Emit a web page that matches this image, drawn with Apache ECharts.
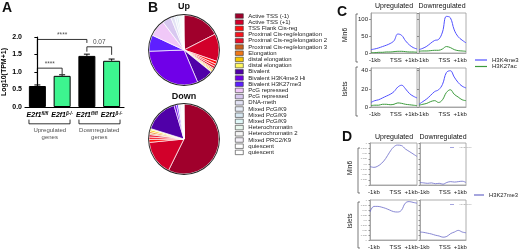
<!DOCTYPE html>
<html>
<head>
<meta charset="utf-8">
<script src="https://cdn.jsdelivr.net/npm/echarts@6/dist/echarts.min.js"></script>
<style>
	html, body { margin: 0; padding: 0; background: #fff; }
	#main { width: 520px; height: 250px; }
</style>
</head>
<body>
<div id="main"></div>
<script>
// ---- A: expression bars
var barLabels = ['E2f1|fl/fl', 'E2f1|β-/-', 'E2f1|fl/fl ', 'E2f1|β-/- '];
var barValues = [0.60, 0.89, 1.46, 1.32];
var barErrors = [0.03, 0.03, 0.05, 0.05];
var geneGroups = ['Upregulated\ngenes', 'Downregulated\ngenes'];
var sigLabels = ['****', '0.07', '****'];
var sigPairs = [[0, 2], [2, 3], [0, 1]];
var sigTop = [1.93, 1.72, 1.11];
var sigLeft = [1.36, 1.58, 0.77];
var sigRight = [1.83, 1.49, 0.94];

// ---- B: chromatin states (pie share, degrees of the circle)
var stateNames = ['Active TSS (-1)', 'Active TSS (+1)', 'TSS Flank Cis-reg', 'Proximal Cis-reg/elongation',
	'Proximal Cis-reg/elongation 2', 'Proximal Cis-reg/elongation 3', 'Elongation', 'distal elongation',
	'distal elongation#2', 'Bivalent', 'Bivalent H3K4me3 Hi', 'Bivalent H3K27me3', 'PcG repressed',
	'PcG repressed#2', 'DNA-meth', 'Mixed PcG/K9', 'Mixed PcG/K9#2', 'Mixed PcG/K9#3', 'Heterochromatin',
	'Heterochromatin 2', 'Mixed PRC2/K9', 'quiescent', 'quiescent#2'];
var upShare = [63, 46, 5, 4, 4, 2, 2, 2, 1, 28, 111, 27, 28, 15, 6, 4, 3, 2, 2, 2, 1, 1, 1];
var downShare = [206, 58, 5, 4, 4, 2, 3, 3, 2, 56, 4, 3, 2, 2, 1, 1, 0.5, 0.5, 0.5, 0.5, 0.5, 0.5, 0.5];

// ---- C: H3K4me3 / H3K27ac profiles around TSS (13 bins, -1kb .. +1kb)
var min6UpK4 = [10, 12, 15, 19, 23, 28, 36, 56, 52, 36, 24, 16, 12];
var min6UpK27ac = [1, 1, 2, 2, 3, 3, 4, 5, 5, 4, 3, 3, 2];
var min6DnK4 = [10, 14, 20, 29, 37, 40, 62, 108, 104, 68, 48, 38, 30];
var min6DnK27ac = [5, 6, 6, 7, 8, 8, 12, 19, 16, 10, 7, 6, 5];
var isletUpK4 = [5, 7, 8, 10, 12, 14, 17, 22, 24, 20, 15, 12, 10];
var isletUpK27ac = [1.5, 2, 2, 3, 3, 2.5, 3, 4.5, 4, 3, 2.5, 2, 1.5];
var isletDnK4 = [3, 6, 9, 13, 17, 19, 25, 38, 40, 33, 27, 23, 21];
var isletDnK27ac = [2, 3, 4, 6, 7, 5, 8, 16, 19, 14, 11, 8, 7];

// ---- D: H3K27me3 profiles (relative)
var min6UpK27me3 = [0.44, 0.42, 0.45, 0.52, 0.63, 0.78, 0.90, 0.95, 0.94, 0.86, 0.80, 0.74, 0.68];
var min6DnK27me3 = [0.06, 0.05, 0.04, 0.05, 0.03, 0.04, 0.02, 0.06, 0.08, 0.07, 0.08, 0.09, 0.06];
var isletUpK27me3 = [0.70, 0.84, 0.84, 0.82, 0.79, 0.75, 0.71, 0.70, 0.74, 0.92, 0.96, 0.94, 0.92];
var isletDnK27me3 = [0.20, 0.19, 0.17, 0.15, 0.12, 0.10, 0.07, 0.09, 0.16, 0.20, 0.24, 0.20, 0.18];
var tssLabels = ['-1kb', 'TSS', '+1kb'];

var FONT = '"Liberation Sans", Arial, sans-serif';
var barFill = ['#000', '#3DF58F', '#000', '#3DF58F'];
var stateColors = ['#A0002C', '#D2002A', '#FF1010', '#F81420', '#E8102C', '#C8601E', '#F07818', '#F8C800',
	'#FFF860', '#5000A8', '#7000E8', '#5E20FF', '#F0C8F8', '#D8C8F0', '#E2E2F4', '#E8EEF8', '#D8E8F2',
	'#E0F8F8', '#E8F8EE', '#F4F4F4', '#F4F0F8', '#FFFFFF', '#FFFFFF'];
var K4_COLOR = '#5050FF', K27AC_COLOR = '#3C9A3C', K27ME3_COLOR = '#6A6AC8';

var chart = echarts.init(document.getElementById('main'));

// grids: 0 = A, 1..4 = C, 5..8 = D
var grids = [
	{left: 25, top: 37, width: 99, height: 70},
	{left: 371, top: 13, width: 46, height: 40},
	{left: 419, top: 13, width: 47, height: 40},
	{left: 371, top: 68, width: 46, height: 39},
	{left: 419, top: 68, width: 47, height: 39},
	{left: 370, top: 143, width: 47, height: 42},
	{left: 420, top: 143, width: 46, height: 42},
	{left: 370, top: 200, width: 47, height: 40},
	{left: 420, top: 200, width: 46, height: 40}
];
grids.forEach(function(g, i) {
	if(i > 0) {
		g.show = true;
		g.borderColor = '#9a9a9a';
		g.borderWidth = 0.8;
	}
});

var xAxes = [{
	type: 'category', gridIndex: 0, data: barLabels,
	axisLine: {lineStyle: {color: '#000', width: 1.2}},
	axisTick: {alignWithLabel: true, length: 3, lineStyle: {color: '#000'}},
	axisLabel: {
		margin: 4, color: '#000', interval: 0, hideOverlap: false,
		formatter: function(v) {
			var p = v.trim().split('|');
			return '{i|' + p[0] + '}{s|' + p[1] + '}';
		},
		rich: {
			i: {fontFamily: FONT, fontSize: 7, fontStyle: 'italic', fontWeight: 'bold', color: '#000', lineHeight: 9},
			s: {fontFamily: FONT, fontSize: 4.5, fontStyle: 'italic', fontWeight: 'bold', color: '#000', verticalAlign: 'top', lineHeight: 9, padding: [0, 0, 4, 0]}
		}
	}
}, {
	// overlay axis for brackets, error bars and notes
	type: 'value', gridIndex: 0, min: -0.5, max: 3.5, show: false
}];
var yAxes = [{
	type: 'value', gridIndex: 0, min: 0, max: 2, interval: 0.5,
	name: 'Log10(TPM+1)', nameLocation: 'middle', nameGap: 17,
	nameTextStyle: {fontFamily: FONT, fontSize: 7, fontWeight: 'bold', color: '#000'},
	axisLine: {show: true, lineStyle: {color: '#000', width: 1.2}},
	axisTick: {show: true, length: 3, lineStyle: {color: '#000'}},
	splitLine: {show: false},
	axisLabel: {fontFamily: FONT, fontSize: 7, fontWeight: 'bold', color: '#000', margin: 3,
		formatter: function(v) { return v.toFixed(1); }}
}];

function profileX(gi) {
	return {
		type: 'value', gridIndex: gi, min: 0, max: 12,
		axisLine: {show: true, lineStyle: {color: '#9a9a9a', width: 0.8}},
		axisTick: {show: false},
		splitLine: {show: false},
		axisLabel: {
			customValues: [1, 6.5, 10.5], margin: 4,
			fontFamily: FONT, fontSize: 6, color: '#222',
			formatter: function(v) { return v === 1 ? tssLabels[0] : (v === 6.5 ? tssLabels[1] : tssLabels[2]); }
		}
	};
}
function profileY(gi, max, interval, showLabel, labelSize) {
	return {
		type: 'value', gridIndex: gi, min: 0, max: max, interval: interval,
		axisLine: {show: true, lineStyle: {color: '#9a9a9a', width: 0.8}},
		axisTick: {show: true, length: labelSize < 4 ? 1.5 : 2, lineStyle: {color: '#555', width: 0.6}},
		splitLine: {show: false},
		axisLabel: {show: showLabel, showMaxLabel: labelSize < 4, fontFamily: FONT, fontSize: labelSize,
			color: labelSize < 4 ? '#888' : '#222', margin: 3}
	};
}
for(var g = 1; g <= 8; g++) {
	xAxes.push(profileX(g));
}
yAxes.push(profileY(1, 118, 50, true, 6));
yAxes.push(profileY(2, 118, 50, false, 6));
yAxes.push(profileY(3, 43, 20, true, 6));
yAxes.push(profileY(4, 43, 20, false, 6));
yAxes.push(profileY(5, 1, 0.125, true, 2.5));
yAxes.push(profileY(6, 1, 0.125, false, 2.5));
yAxes.push(profileY(7, 1, 0.125, true, 2.5));
yAxes.push(profileY(8, 1, 0.125, false, 2.5));

function profile(name, gi, arr, color, width) {
	return {
		type: 'line', name: name, xAxisIndex: gi + 1, yAxisIndex: gi,
		data: arr.map(function(v, i) { return [i, v]; }),
		smooth: 0.4, symbol: 'none', showSymbol: false, silent: true,
		lineStyle: {color: color, width: width}, itemStyle: {color: color}
	};
}

function bracketLine(points) {
	return {
		type: 'line', xAxisIndex: 1, yAxisIndex: 0, data: points, clip: false,
		symbol: 'none', silent: true, lineStyle: {color: '#000', width: 0.8}
	};
}

var series = [];
// bars
series.push({
	type: 'bar', xAxisIndex: 0, yAxisIndex: 0, barWidth: 17, silent: true,
	itemStyle: {borderColor: '#000', borderWidth: 1},
	data: barValues.map(function(v, i) { return {value: v, itemStyle: {color: barFill[i]}}; })
});
// error bars
series.push({
	type: 'custom', xAxisIndex: 1, yAxisIndex: 0, silent: true,
	data: barValues.map(function(v, i) { return [i, v, barErrors[i]]; }),
	renderItem: function(params, api) {
		var top = api.coord([api.value(0), api.value(1) + api.value(2)]);
		var base = api.coord([api.value(0), api.value(1)]);
		return {
			type: 'group',
			children: [
				{type: 'line', shape: {x1: base[0], y1: base[1], x2: top[0], y2: top[1]}, style: {stroke: '#000', lineWidth: 1}},
				{type: 'line', shape: {x1: top[0] - 3, y1: top[1], x2: top[0] + 3, y2: top[1]}, style: {stroke: '#000', lineWidth: 1}}
			]
		};
	}
});
// significance brackets
sigPairs.forEach(function(p, k) {
	series.push(bracketLine([[p[0], sigLeft[k]], [p[0], sigTop[k]], [p[1], sigTop[k]], [p[1], sigRight[k]]]));
});
series.push({
	type: 'scatter', xAxisIndex: 1, yAxisIndex: 0, symbolSize: 0, clip: false, silent: true,
	data: sigPairs.map(function(p, k) { return [(p[0] + p[1]) / 2, sigTop[k] + 0.12, sigLabels[k]]; }),
	label: {show: true, position: 'inside', fontFamily: FONT, fontSize: 6.5, color: '#222',
		formatter: function(d) { return d.value[2]; }}
});
// gene group brackets under the axis
series.push(bracketLine([[-0.34, -0.36], [-0.34, -0.48], [1.32, -0.48], [1.32, -0.36]]));
series.push(bracketLine([[1.68, -0.36], [1.68, -0.48], [3.34, -0.48], [3.34, -0.36]]));
series.push({
	type: 'scatter', xAxisIndex: 1, yAxisIndex: 0, symbolSize: 0, clip: false, silent: true,
	data: geneGroups.map(function(n, k) { return [k * 2 + 0.5, -0.76, n]; }),
	label: {show: true, position: 'inside', fontFamily: FONT, fontSize: 6, lineHeight: 7, color: '#222',
		formatter: function(d) { return d.value[2]; }}
});

// pies
function pieData(values) {
	return values.map(function(v, i) { return {name: stateNames[i], value: v, itemStyle: {color: stateColors[i]}}; });
}
[[50, upShare], [139, downShare]].forEach(function(p) {
	series.push({
		type: 'pie', center: [184, p[0]], radius: 35, startAngle: 90, silent: true,
		label: {show: false}, labelLine: {show: false}, emphasis: {disabled: true},
		itemStyle: {borderColor: '#fff', borderWidth: 0.7},
		data: pieData(p[1])
	});
	series.push({
		type: 'pie', center: [184, p[0]], radius: [35, 35.9], silent: true,
		label: {show: false}, emphasis: {disabled: true},
		data: [{name: 'outline', value: 1, itemStyle: {color: '#222'}}]
	});
});

// C profiles
series.push(profile('H3K4me3', 1, min6UpK4, K4_COLOR, 1));
series.push(profile('H3K27ac', 1, min6UpK27ac, K27AC_COLOR, 1));
series.push(profile('H3K4me3', 2, min6DnK4, K4_COLOR, 1));
series.push(profile('H3K27ac', 2, min6DnK27ac, K27AC_COLOR, 1));
series.push(profile('H3K4me3', 3, isletUpK4, K4_COLOR, 1));
series.push(profile('H3K27ac', 3, isletUpK27ac, K27AC_COLOR, 1));
series.push(profile('H3K4me3', 4, isletDnK4, K4_COLOR, 1));
series.push(profile('H3K27ac', 4, isletDnK27ac, K27AC_COLOR, 1));
// D profiles
series.push(profile('H3K27me3', 5, min6UpK27me3, K27ME3_COLOR, 0.8));
series.push(profile('H3K27me3', 6, min6DnK27me3, K27ME3_COLOR, 0.8));
series.push(profile('H3K27me3', 7, isletUpK27me3, K27ME3_COLOR, 0.8));
series.push(profile('H3K27me3', 8, isletDnK27me3, K27ME3_COLOR, 0.8));

var legendText = {fontFamily: FONT, fontSize: 6, lineHeight: 6, color: '#222'};
var legends = [{
	data: stateNames, orient: 'vertical', left: 235, top: 13, padding: 0,
	icon: 'rect', itemWidth: 8, itemHeight: 4.5, itemGap: 0.2, selectedMode: false,
	itemStyle: {borderColor: '#333', borderWidth: 0.6},
	formatter: function(n) { return n.split('#')[0]; },
	textStyle: legendText
}, {
	data: ['H3K4me3', 'H3K27ac'], orient: 'vertical', left: 475, top: 57, padding: 0,
	icon: 'rect', itemWidth: 12, itemHeight: 1.2, itemGap: 0.5, selectedMode: false,
	textStyle: legendText
}, {
	data: ['H3K27me3'], orient: 'vertical', left: 474, top: 192, padding: 0,
	icon: 'rect', itemWidth: 10, itemHeight: 1.2, itemGap: 0, selectedMode: false,
	textStyle: {fontFamily: FONT, fontSize: 5.8, lineHeight: 6, color: '#222'}
}];
[146, 203].forEach(function(t) {
	legends.push({
		data: ['H3K27me3'], left: 450, top: t, padding: 0, icon: 'rect',
		itemWidth: 4, itemHeight: 0.6, itemGap: 1, selectedMode: false,
		textStyle: {fontFamily: FONT, fontSize: 2.5, color: '#999'}
	});
});

function txt(x, y, text, size, weight, extra) {
	var el = {
		type: 'text', x: x, y: y, silent: true,
		style: {text: text, fontFamily: FONT, fontSize: size, fontWeight: weight || 'normal', fill: '#111', align: 'center', verticalAlign: 'middle'}
	};
	if(extra) { el.rotation = extra; }
	return el;
}
function sideBracket(x, y1, y2) {
	return {type: 'polyline', silent: true, shape: {points: [[x + 2, y1], [x, y1], [x, y2], [x + 2, y2]]},
		style: {stroke: '#444', lineWidth: 0.7, fill: null}};
}
var graphics = [
	txt(7, 8, 'A', 14, 'bold'), txt(153, 8, 'B', 14, 'bold'), txt(342, 12, 'C', 14, 'bold'), txt(347, 137, 'D', 14, 'bold'),
	txt(184, 7, 'Up', 9, 'bold'), txt(184, 97, 'Down', 9, 'bold'),
	txt(394, 6, 'Upregulated', 7), txt(442, 6, 'Downregulated', 7),
	txt(394, 137, 'Upregulated', 7), txt(443, 137, 'Downregulated', 7),
	txt(345, 35, 'Min6', 6.5, 'normal', Math.PI / 2), txt(345, 89, 'Islets', 6.5, 'normal', Math.PI / 2),
	txt(350, 168, 'Min6', 6.5, 'normal', Math.PI / 2), txt(350, 221, 'Islets', 6.5, 'normal', Math.PI / 2),
	sideBracket(356, 14, 62), sideBracket(356, 67, 116),
	sideBracket(358, 148, 193), sideBracket(358, 202, 248)
];

var option = {
	animation: false,
	textStyle: {fontFamily: FONT},
	grid: grids,
	xAxis: xAxes,
	yAxis: yAxes,
	legend: legends,
	series: series,
	graphic: graphics
};
chart.setOption(option);
</script>
</body>
</html>
